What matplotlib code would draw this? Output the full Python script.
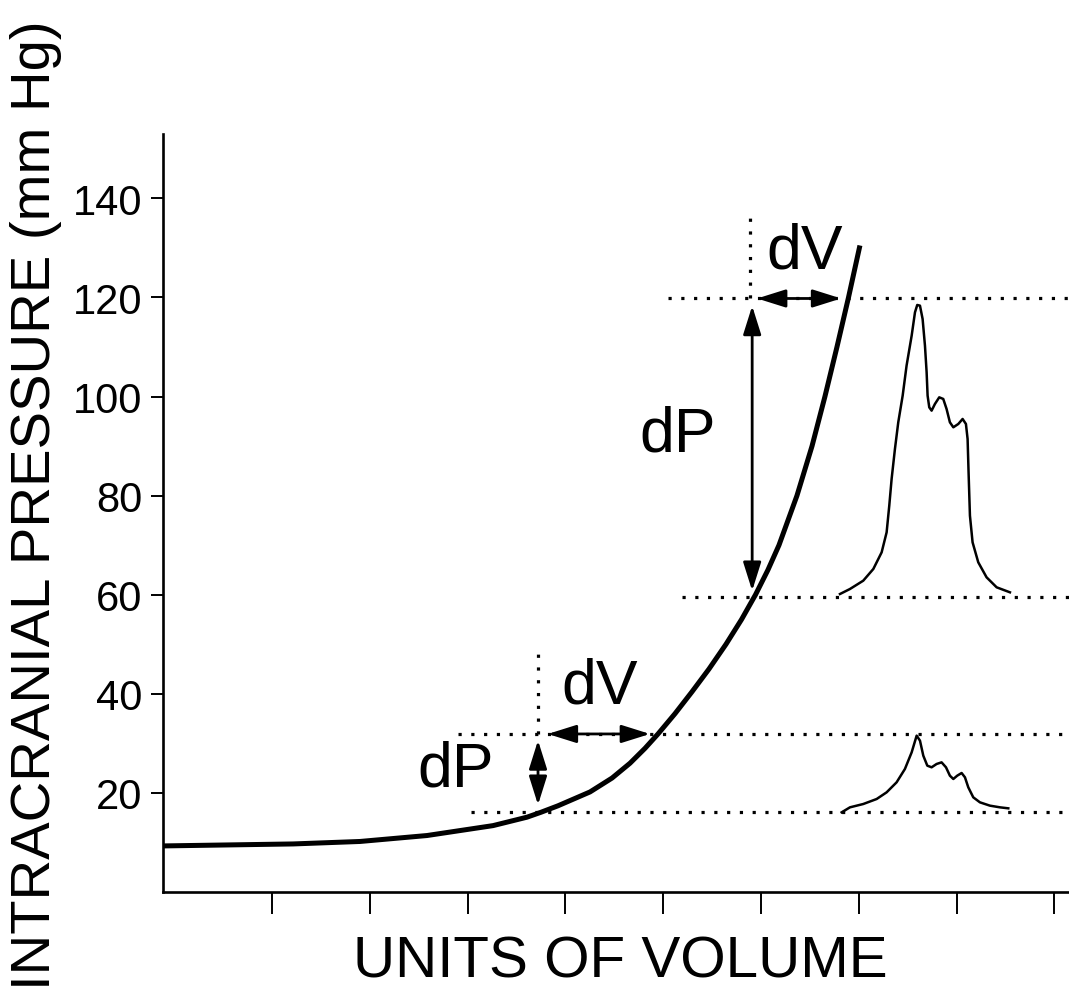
import matplotlib
matplotlib.use("Agg")
import matplotlib.pyplot as plt

plt.rcParams['font.family'] = ['Liberation Sans', 'DejaVu Sans']

# ---- data ----
volume = [-0.115, 1.215, 1.900, 2.585, 3.260, 3.607, 3.751, 3.924, 4.252, 4.477,
          4.661, 4.814, 4.947, 5.121, 5.294, 5.468, 5.642, 5.801, 5.944, 6.071,
          6.184, 6.368, 6.522, 6.654, 6.777, 6.895, 7.012]
pressure = [9.3, 9.7, 10.2, 11.4, 13.4, 15.1, 16.1, 17.4, 20.2, 23.0,
            26.0, 29.0, 31.9, 36.0, 40.4, 45.0, 50.0, 55.0, 60.0, 65.0,
            70.0, 80.0, 90.0, 100.0, 110.0, 120.0, 130.5]

big_wave_v = [6.808, 6.910, 7.046, 7.149, 7.234, 7.285, 7.312, 7.336, 7.370, 7.404,
              7.449, 7.489, 7.541, 7.575, 7.598, 7.626, 7.653, 7.677, 7.694, 7.704,
              7.721, 7.745, 7.779, 7.823, 7.864, 7.898, 7.932, 7.967, 8.018, 8.062,
              8.096, 8.113, 8.123, 8.137, 8.164, 8.222, 8.307, 8.410, 8.546]
big_wave_p = [60.15, 61.16, 62.84, 65.20, 68.56, 72.60, 77.98, 83.37, 89.42, 94.81,
              100.19, 106.25, 112.30, 117.01, 118.49, 118.35, 115.66, 110.28, 104.90, 100.19,
              97.83, 97.16, 98.51, 99.85, 99.52, 97.50, 94.81, 93.80, 94.47, 95.48,
              94.47, 91.44, 84.71, 75.96, 70.58, 66.55, 63.52, 61.50, 60.49]

small_wave_v = [6.825, 6.910, 7.046, 7.183, 7.285, 7.387, 7.472, 7.541, 7.592, 7.626,
                7.660, 7.701, 7.745, 7.796, 7.847, 7.892, 7.932, 7.967, 8.007, 8.052,
                8.086, 8.120, 8.171, 8.239, 8.341, 8.444, 8.529]
small_wave_p = [16.08, 17.09, 17.76, 18.77, 20.12, 22.14, 24.83, 28.19, 31.56, 30.55,
                27.52, 25.50, 25.17, 25.84, 26.17, 25.17, 23.48, 22.81, 23.48, 24.02,
                23.15, 21.13, 19.11, 18.10, 17.43, 17.09, 16.89]

yticks = [20, 40, 60, 80, 100, 120, 140]
xticks = [1, 2, 3, 4, 5, 6, 7, 8, 9]

p_low = [16.1, 31.9]      # small dP interval
p_high = [59.5, 119.8]    # large dP interval
v_low = [3.72, 4.865]     # small dV interval
v_high = [5.91, 6.82]     # large dV interval

# ---- figure ----
fig = plt.figure(figsize=(10.69, 10.04), dpi=100)
ax = fig.add_axes([163/1069, 111/1004, (1069-163)/1069, (893-135)/1004])
ax.set_xlim(-0.115, 9.15)
ax.set_ylim(0, 153)

for s in ['top', 'right']:
    ax.spines[s].set_visible(False)
for s in ['left', 'bottom']:
    ax.spines[s].set_linewidth(1.9)

ax.set_yticks(yticks)
ax.set_yticklabels([str(v) for v in yticks], fontsize=30)
ax.set_xticks(xticks)
ax.set_xticklabels([])
ax.tick_params(axis='y', direction='out', length=9, width=1.4, pad=6)
ax.tick_params(axis='x', direction='out', length=16, width=1.4)

dot = dict(color='black', lw=2.3, linestyle=(0, (1, 3)), clip_on=False)
xmax = 9.15
# horizontal dotted reference lines
ax.plot([2.90, xmax], [p_low[1], p_low[1]], **dot)
ax.plot([3.03, xmax], [p_low[0], p_low[0]], **dot)
ax.plot([5.05, xmax], [p_high[1], p_high[1]], **dot)
ax.plot([5.19, xmax], [p_high[0], p_high[0]], **dot)
# vertical dotted lines
ax.plot([v_low[0], v_low[0]], [p_low[1], 48.4], **dot)
ax.plot([v_high[0] - 0.02, v_high[0] - 0.02], [p_high[1], 136.3], **dot)

# pressure-volume curve
ax.plot(volume, pressure, color='black', lw=3.6, solid_capstyle='butt',
        solid_joinstyle='round')

# pulse waveforms
ax.plot(big_wave_v, big_wave_p, color='black', lw=1.8, solid_joinstyle='round')
ax.plot(small_wave_v, small_wave_p, color='black', lw=1.8, solid_joinstyle='round')

arrow = dict(arrowstyle='<|-|>,head_length=0.7,head_width=0.22',
             color='black', lw=2.0, mutation_scale=25, shrinkA=0, shrinkB=0)
# small dP / dV arrows
ax.annotate('', xy=(v_low[0], p_low[0] + 1.5), xytext=(v_low[0], p_low[1] - 1.3),
            arrowprops=arrow)
ax.annotate('', xy=(v_low[1], p_low[1]), xytext=(v_low[0] + 0.1, p_low[1]),
            arrowprops=arrow)
# large dP / dV arrows
ax.annotate('', xy=(v_high[0], p_high[0] + 1.3), xytext=(v_high[0], p_high[1] - 1.5),
            arrowprops=arrow)
ax.annotate('', xy=(v_high[1], p_high[1]), xytext=(v_high[0] + 0.05, p_high[1]),
            arrowprops=arrow)

# labels on arrows
ax.text(5.15, 92.5, 'dP', fontsize=45, ha='center', va='center')
ax.text(6.45, 129.4, 'dV', fontsize=45, ha='center', va='center')
ax.text(4.35, 41.6, 'dV', fontsize=45, ha='center', va='center')
ax.text(2.88, 24.8, 'dP', fontsize=45, ha='center', va='center')

fig.text(36/1069, 1 - 505/1004, 'INTRACRANIAL PRESSURE (mm Hg)', rotation=90,
         fontsize=40.5, ha='center', va='center')
fig.text(620/1069, 1 - 963/1004, 'UNITS OF VOLUME', fontsize=42,
         ha='center', va='center')

fig.savefig('out.png', dpi=100, facecolor='white')
